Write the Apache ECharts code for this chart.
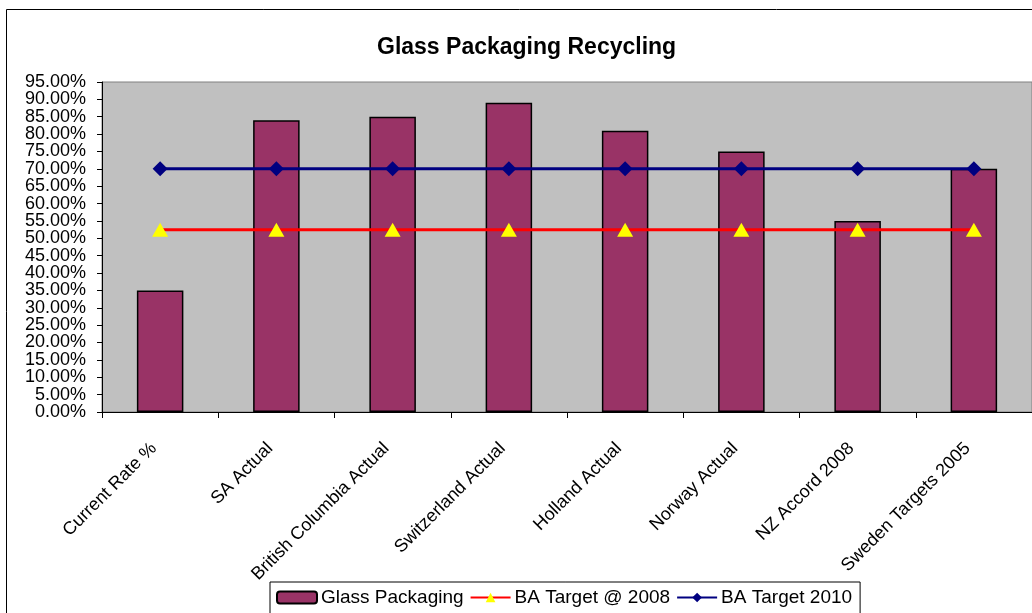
<!DOCTYPE html>
<html>
<head>
<meta charset="utf-8">
<script src="https://cdn.jsdelivr.net/npm/echarts@6/dist/echarts.min.js"></script>
<style>
html,body{margin:0;padding:0;background:#fff;}
#c{width:1032px;height:613px;}
</style>
</head>
<body>
<div id="c"></div>
<script>
var categories = ['Current Rate %','SA Actual','British Columbia Actual','Switzerland Actual','Holland Actual','Norway Actual','NZ Accord 2008','Sweden Targets 2005'];
var glassPackaging = [0.35,0.84,0.85,0.89,0.81,0.75,0.55,0.70];
var baTarget2008 = [0.525,0.525,0.525,0.525,0.525,0.525,0.525,0.525];
var baTarget2010 = [0.70,0.70,0.70,0.70,0.70,0.70,0.70,0.70];
var yTicks = {min:0, max:0.95, interval:0.05};

var font = 'Arial, "Liberation Sans", sans-serif';
function fmt(v){return (v*100).toFixed(2)+'%';}
function isEvenStep(v){return Math.round(v/yTicks.interval)%2===0;}
var chart = echarts.init(document.getElementById('c'));
var baseY = {
  type:'value', min:yTicks.min, max:yTicks.max, interval:yTicks.interval, position:'left', offset:0,
  splitLine:{show:false}
};
chart.setOption({
  animation:false,
  backgroundColor:'#ffffff',
  textStyle:{fontFamily:font},
  graphic:[{type:'rect',shape:{x:6.5,y:9.5,width:1200,height:800},style:{fill:'none',stroke:'#000',lineWidth:1},silent:true,z:-10}],
  title:{text:'Glass Packaging Recycling',left:372,top:31,textStyle:{fontFamily:font,fontSize:23,fontWeight:'bold',color:'#000'}},
  legend:{
    left:270, top:582, orient:'horizontal',
    backgroundColor:'#fff', borderColor:'#000', borderWidth:1,
    padding:[6,8,10,6], itemGap:6, itemWidth:40, itemHeight:12,
    textStyle:{fontFamily:font,fontSize:19,color:'#000',padding:[0,0,0,-1]},
    data:['Glass Packaging','BA Target @ 2008','BA Target 2010']
  },
  grid:{left:102,right:0,top:82,bottom:201,show:true,backgroundColor:'#C0C0C0',borderColor:'#808080',borderWidth:1},
  xAxis:{
    type:'category', data:categories, boundaryGap:true,
    axisLine:{lineStyle:{color:'#000',width:1}},
    axisTick:{show:true,length:6,lineStyle:{color:'#000'},alignWithLabel:false},
    axisLabel:{rotate:45,fontSize:18,color:'#000',fontFamily:font,margin:40,interval:0,verticalAlign:'bottom'}
  },
  yAxis:[
    Object.assign({}, baseY, {
      axisLine:{show:true,lineStyle:{color:'#000',width:1}},
      axisTick:{show:true,length:5,lineStyle:{color:'#000'}},
      axisLabel:{fontSize:18,color:'#000',fontFamily:font,margin:16,showMinLabel:true,showMaxLabel:true,
        formatter:function(v){return isEvenStep(v)?fmt(v):'';}}
    }),
    Object.assign({}, baseY, {
      axisLine:{show:false},
      axisTick:{show:false},
      axisLabel:{fontSize:18,color:'#000',fontFamily:font,margin:16,showMinLabel:true,showMaxLabel:true,
        formatter:function(v){return isEvenStep(v)?'':fmt(v);}}
    })
  ],
  series:[
    {name:'Glass Packaging',type:'bar',data:glassPackaging,barCategoryGap:'60%',yAxisIndex:0,
     itemStyle:{color:'#993366',borderColor:'#000',borderWidth:1.5},z:2},
    {name:'BA Target @ 2008',type:'line',data:baTarget2008,symbol:'triangle',symbolSize:[16,14],yAxisIndex:0,
     lineStyle:{color:'#FF0000',width:3},itemStyle:{color:'#FFFF00',borderWidth:0},z:3},
    {name:'BA Target 2010',type:'line',data:baTarget2010,symbol:'diamond',symbolSize:[15,15],yAxisIndex:0,
     lineStyle:{color:'#000080',width:3},itemStyle:{color:'#000080',borderWidth:0},z:4}
  ]
});
</script>
</body>
</html>
